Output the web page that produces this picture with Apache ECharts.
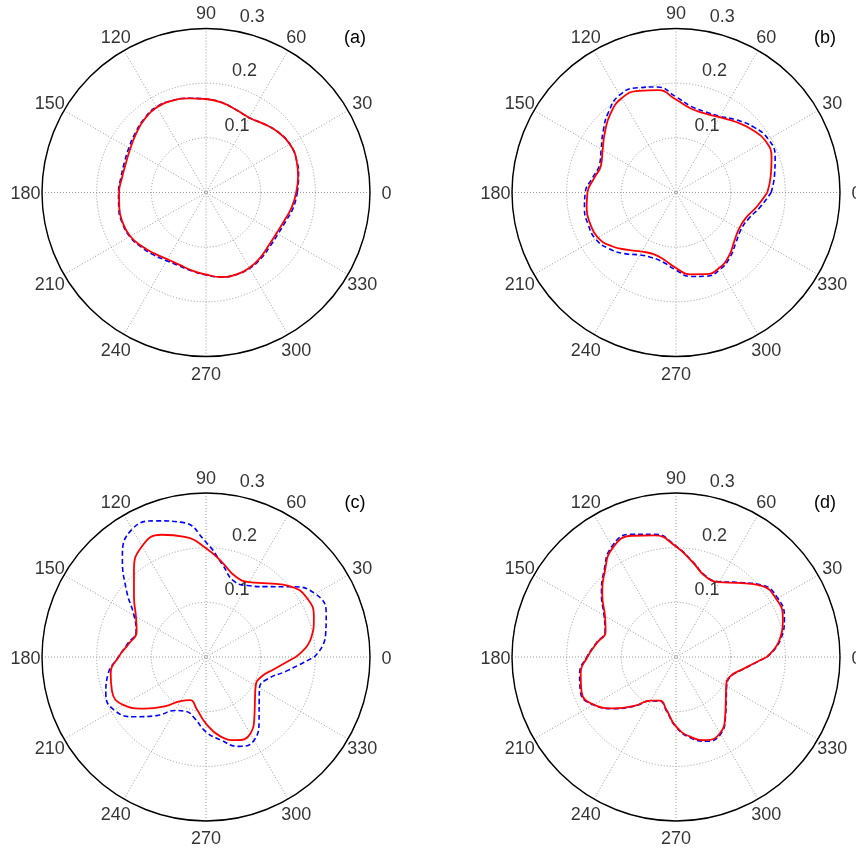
<!DOCTYPE html>
<html>
<head>
<meta charset="utf-8">
<script src="https://cdn.jsdelivr.net/npm/echarts@6/dist/echarts.min.js"></script>
<style>
html,body{margin:0;padding:0;background:#ffffff;}
#chart{width:856px;height:848px;}
</style>
</head>
<body>
<div id="chart"></div>
<script>
// ---- data ----
const angles = [0,10,20,30,40,50,60,70,80,90,100,110,120,130,140,150,160,170,180,190,200,210,220,230,240,250,260,270,280,290,300,310,320,330,340,350];
const angleTicks = [0,30,60,90,120,150,180,210,240,270,300,330];
const angleTickLabels = ['0','30','60','90','120','150','180','210','240','270','300','330'];
const radiusTicks = [0.1,0.2,0.3];
const radiusTickLabels = ['0.1','0.2','0.3'];
const panelLabels = ['(a)','(b)','(c)','(d)'];

const redA  = [0.165,0.171,0.176,0.177,0.172,0.164,0.158,0.161,0.167,0.171,0.175,0.179,0.180,0.175,0.167,0.160,0.156,0.156,0.159,0.161,0.162,0.160,0.153,0.146,0.141,0.141,0.145,0.150,0.157,0.160,0.159,0.155,0.150,0.149,0.152,0.159];
const blueA = [0.167,0.172,0.176,0.177,0.172,0.164,0.158,0.161,0.167,0.171,0.175,0.179,0.181,0.176,0.169,0.163,0.159,0.158,0.160,0.162,0.163,0.161,0.155,0.149,0.144,0.143,0.146,0.151,0.157,0.160,0.160,0.157,0.153,0.152,0.155,0.162];

const redB  = [0.167,0.176,0.186,0.189,0.180,0.169,0.159,0.154,0.156,0.170,0.190,0.198,0.199,0.187,0.170,0.155,0.146,0.152,0.162,0.166,0.167,0.165,0.153,0.137,0.125,0.120,0.125,0.138,0.152,0.159,0.159,0.151,0.139,0.133,0.136,0.150];
const blueB = [0.174,0.183,0.193,0.195,0.186,0.173,0.161,0.157,0.160,0.175,0.196,0.204,0.206,0.192,0.174,0.158,0.149,0.155,0.166,0.170,0.171,0.170,0.160,0.146,0.132,0.127,0.130,0.142,0.156,0.163,0.162,0.154,0.143,0.137,0.141,0.156];

const redC  = [0.164,0.195,0.210,0.214,0.201,0.176,0.158,0.157,0.175,0.199,0.223,0.238,0.234,0.205,0.172,0.148,0.135,0.143,0.160,0.177,0.183,0.175,0.147,0.118,0.093,0.084,0.097,0.122,0.147,0.162,0.162,0.138,0.117,0.105,0.107,0.127];
const blueC = [0.198,0.222,0.234,0.231,0.200,0.168,0.151,0.148,0.172,0.210,0.250,0.265,0.270,0.238,0.190,0.152,0.136,0.145,0.160,0.182,0.195,0.194,0.170,0.140,0.113,0.106,0.115,0.137,0.154,0.174,0.176,0.151,0.127,0.113,0.119,0.149];

const redD  = [0.166,0.193,0.208,0.212,0.203,0.177,0.158,0.157,0.176,0.202,0.226,0.236,0.231,0.203,0.176,0.150,0.137,0.147,0.162,0.177,0.184,0.174,0.146,0.116,0.092,0.085,0.099,0.127,0.148,0.162,0.161,0.140,0.119,0.106,0.105,0.125];
const blueD = [0.167,0.195,0.211,0.215,0.205,0.178,0.159,0.158,0.177,0.203,0.228,0.239,0.234,0.205,0.178,0.152,0.138,0.148,0.163,0.179,0.186,0.175,0.147,0.117,0.093,0.086,0.100,0.128,0.150,0.164,0.163,0.141,0.120,0.107,0.106,0.126];

const redSeries  = [redA, redB, redC, redD];
const blueSeries = [blueA, blueB, blueC, blueD];

// ---- layout / style ----
const centers = [[206,192.5],[676,192.5],[206,657],[676,657]];
const R = 164;
const rMax = 0.3;
const FONT = 'Liberation Sans, Arial, Helvetica, sans-serif';
const FS = 18;

function closed(vals){
  const pts = angles.map((a,i)=>[vals[i], a]);
  pts.push([vals[0], 360]);
  return pts;
}

const polar = [], angleAxis = [], radiusAxis = [], series = [], graphic = [];
const gridStyle = {color:'#999999', width:1, type:[1,2]};

centers.forEach((c, p) => {
  polar.push({center: c, radius: R});
  angleAxis.push({
    polarIndex: p, type:'value', min:0, max:360, interval:30,
    startAngle:0, clockwise:false,
    axisLine:{show:true, lineStyle:{color:'#000', width:1.4}},
    axisTick:{show:false}, axisLabel:{show:false},
    splitLine:{show:true, lineStyle:gridStyle}
  });
  radiusAxis.push({
    polarIndex: p, type:'value', min:0, max:rMax, interval:0.1,
    axisLine:{show:false}, axisTick:{show:false}, axisLabel:{show:false},
    splitLine:{show:true, lineStyle:gridStyle}
  });
  series.push({
    type:'line', coordinateSystem:'polar', polarIndex:p,
    data: closed(blueSeries[p]), smooth:0.5, symbol:'none', z:3,
    lineStyle:{color:'#0000ff', width:1.6, type:[5,3]}
  });
  series.push({
    type:'line', coordinateSystem:'polar', polarIndex:p,
    data: closed(redSeries[p]), smooth:0.5, symbol:'none', z:4,
    lineStyle:{color:'#ff0000', width:1.8}
  });
  // angle tick labels at 1.1 * rMax
  series.push({
    type:'scatter', coordinateSystem:'polar', polarIndex:p, clip:false,
    symbolSize:0, silent:true, z:5,
    data: angleTicks.map(a => [rMax*1.1, a]),
    label:{show:true, position:'inside', align:'center', verticalAlign:'middle',
      offset:[0,2], color:'#000', fontFamily:FONT, fontSize:FS,
      formatter: prm => angleTickLabels[prm.dataIndex]}
  });
  // radial tick labels at 82 degrees
  series.push({
    type:'scatter', coordinateSystem:'polar', polarIndex:p, clip:false,
    symbolSize:0, silent:true, z:5,
    data: radiusTicks.map(r => [r + 0.1/20, 82]),
    label:{show:true, position:'inside', align:'left', verticalAlign:'bottom',
      offset:[10.5,-1], color:'#000', fontFamily:FONT, fontSize:FS,
      formatter: prm => radiusTickLabels[prm.dataIndex]}
  });
  graphic.push({
    type:'text', x: c[0] + 149, y: c[1] - 154, z:10,
    style:{text: panelLabels[p], fill:'#000', font: FS + 'px ' + FONT, align:'center', verticalAlign:'middle'}
  });
});

const chart = echarts.init(document.getElementById('chart'), null, {renderer:'canvas'});
chart.setOption({
  animation:false,
  backgroundColor:'#ffffff',
  polar, angleAxis, radiusAxis, series, graphic
});
</script>
</body>
</html>
